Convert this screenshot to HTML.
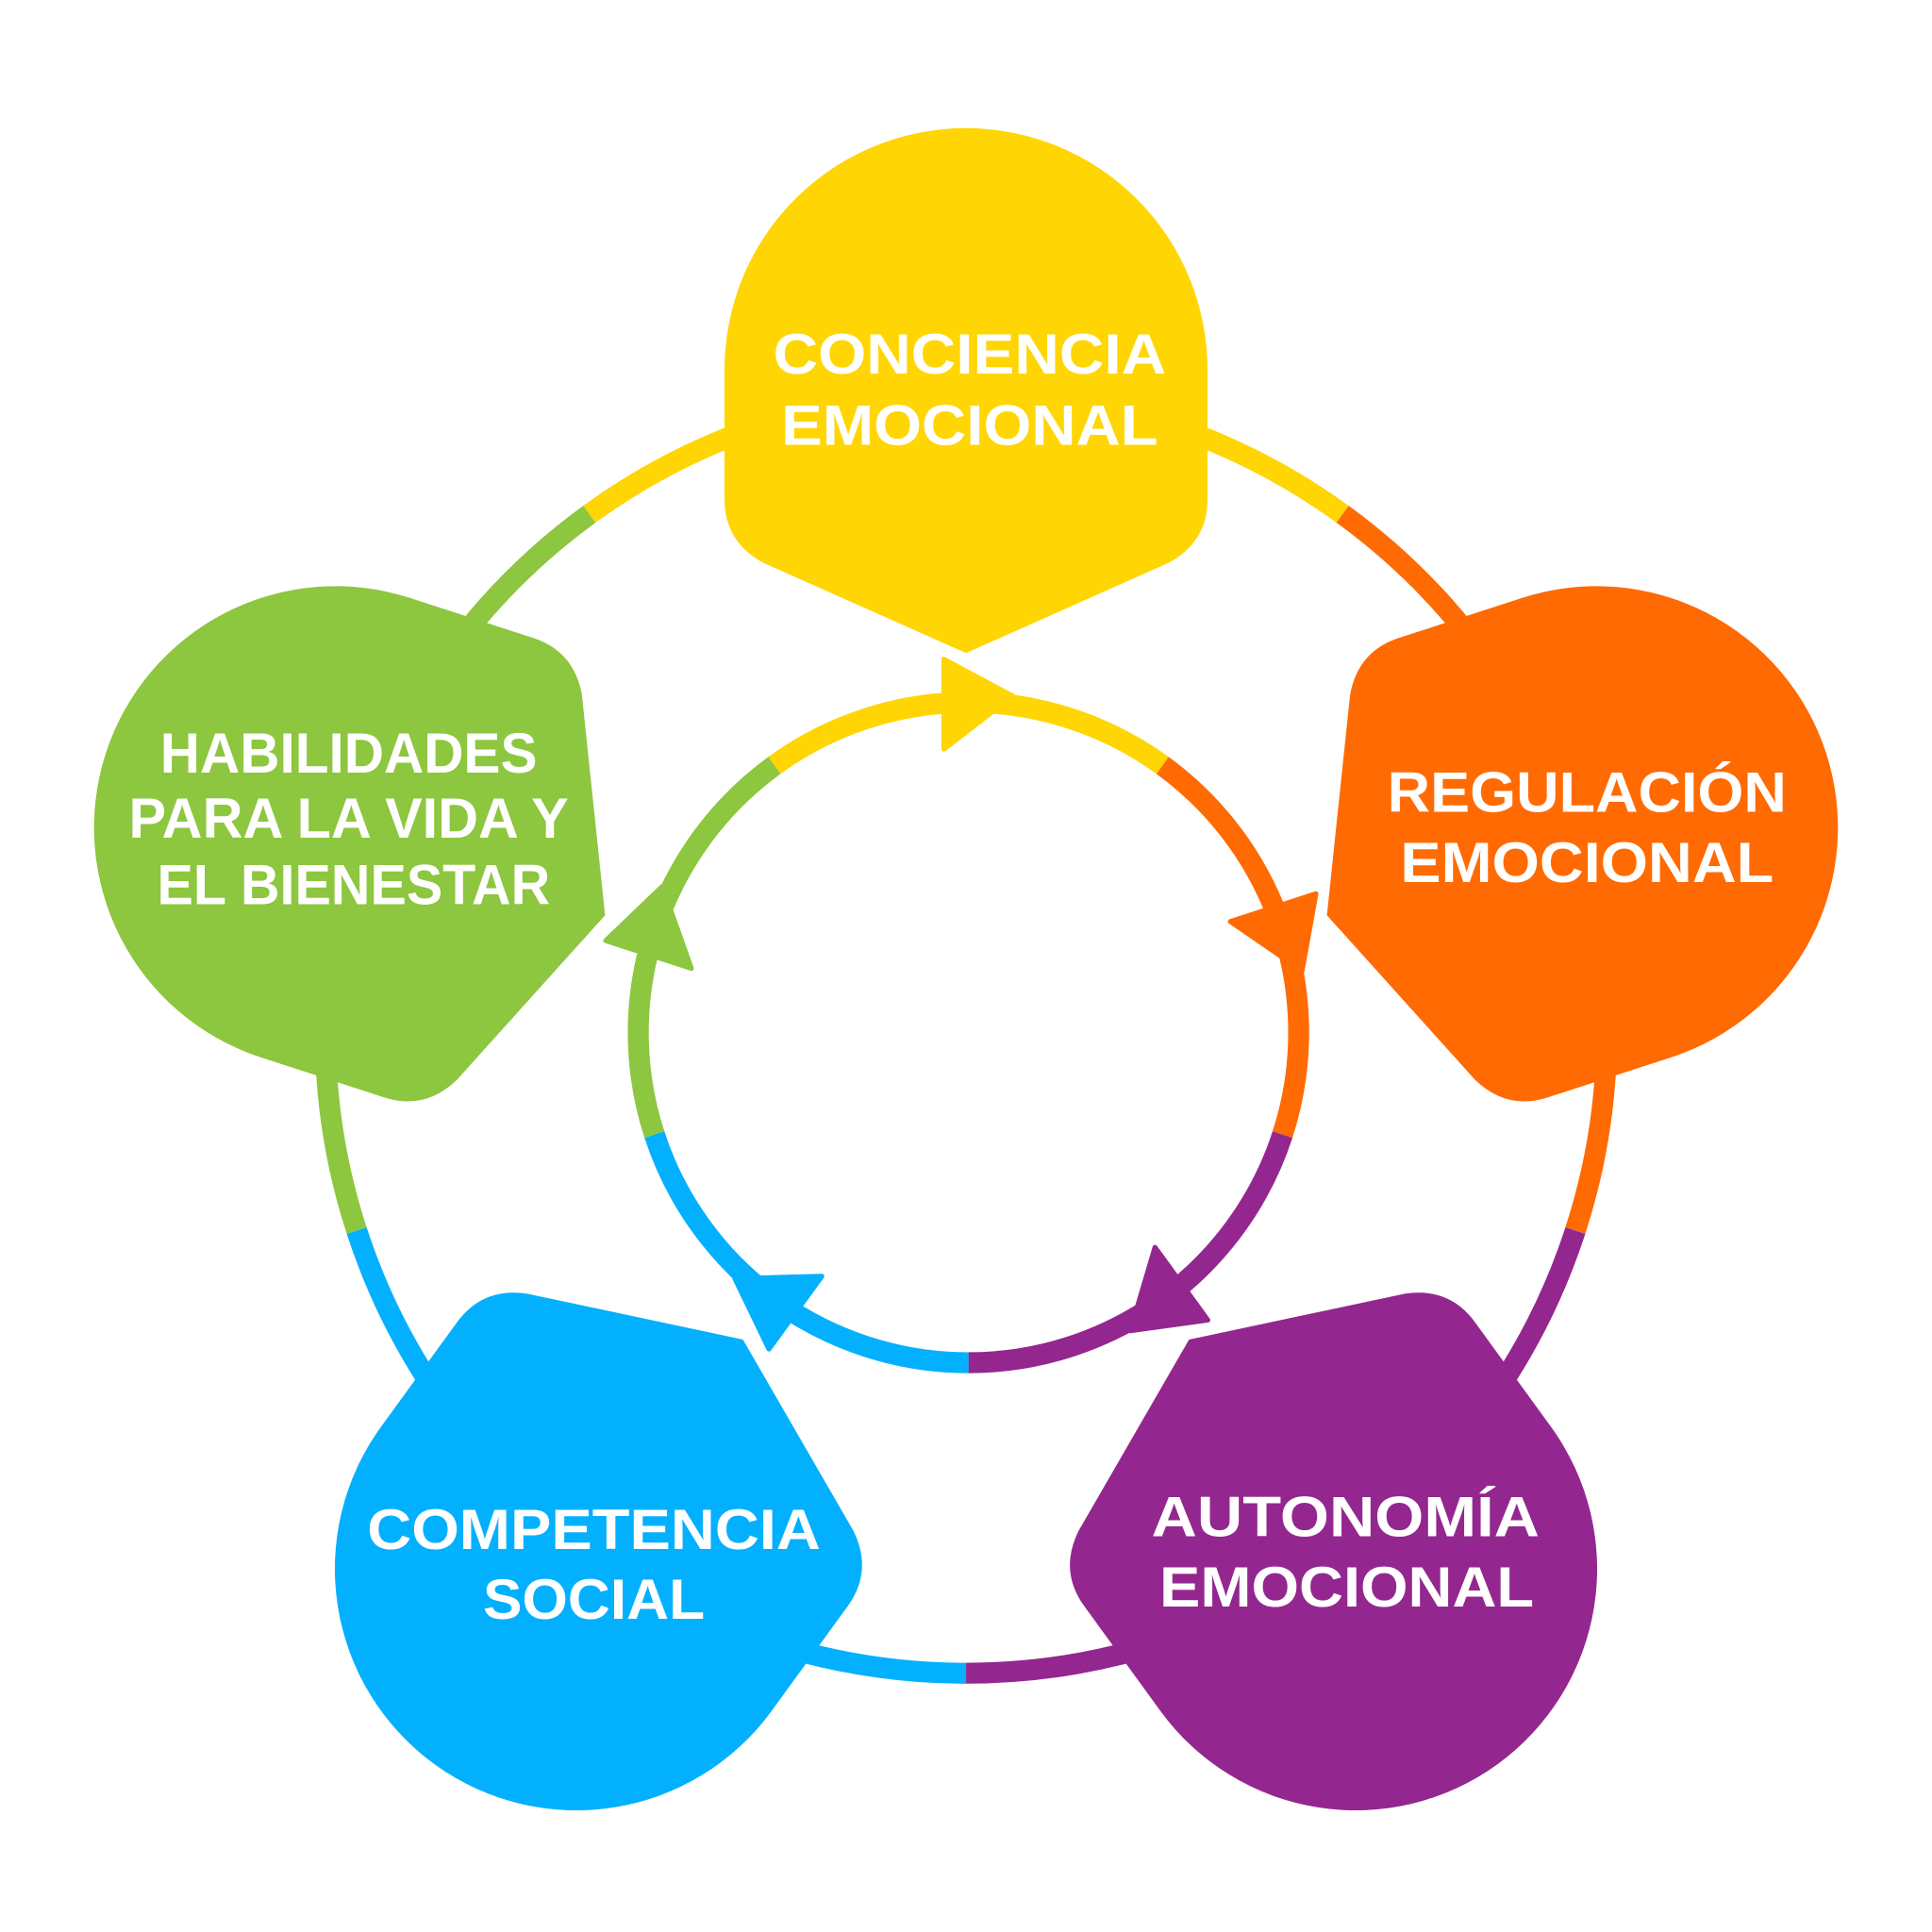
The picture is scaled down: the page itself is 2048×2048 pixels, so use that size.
<!DOCTYPE html>
<html><head><meta charset="utf-8"><style>
html,body{margin:0;padding:0;background:#fff}
svg{display:block}
text{font-family:"Liberation Sans",sans-serif;font-weight:bold;fill:#fff;font-size:46px;text-anchor:middle}
</style></head><body>
<svg width="2048" height="2048" viewBox="0 0 1568 1568" xmlns="http://www.w3.org/2000/svg">
<defs>
<path id="node" d="M588,405 L588,300 A196,196 0 0 1 980,300 L980,405 Q980,440 948,457 L784,530 L620,457 Q588,440 588,405 Z"/>
<path id="arc" d="M784,318 A520,520 0 0 1 1089.6,417.3" fill="none" stroke-width="17"/>
<path id="arcIn" d="M786,570 A268,268 0 0 1 943.5,621.2" fill="none" stroke-width="17"/>
<path id="tri" d="M766,535 L822,565 L766,608 Z"/>
</defs>
<!-- outer ring segments: each spans -36..36 rotated -->
<g transform="translate(0,0)">
<g transform="rotate(0 784 838)"><use href="#arc" stroke="#FFD503" transform="rotate(0 784 838)"/><use href="#arc" stroke="#FFD503" transform="rotate(-36 784 838)"/></g>
<g transform="rotate(72 784 838)"><use href="#arc" stroke="#FF6A03"/><use href="#arc" stroke="#FF6A03" transform="rotate(-36 784 838)"/></g>
<g transform="rotate(144 784 838)"><use href="#arc" stroke="#93278F"/><use href="#arc" stroke="#93278F" transform="rotate(-36 784 838)"/></g>
<g transform="rotate(216 784 838)"><use href="#arc" stroke="#03B0FE"/><use href="#arc" stroke="#03B0FE" transform="rotate(-36 784 838)"/></g>
<g transform="rotate(288 784 838)"><use href="#arc" stroke="#8DC63F"/><use href="#arc" stroke="#8DC63F" transform="rotate(-36 784 838)"/></g>
</g>
<!-- nodes -->
<use href="#node" fill="#FFD503"/>
<use href="#node" fill="#FF6A03" transform="rotate(72 784 838)"/>
<use href="#node" fill="#93278F" transform="rotate(144 784 838)"/>
<use href="#node" fill="#03B0FE" transform="rotate(216 784 838)"/>
<use href="#node" fill="#8DC63F" transform="rotate(288 784 838)"/>
<!-- inner ring -->
<g transform="rotate(0 786 838)"><use href="#arcIn" stroke="#FFD503"/><use href="#arcIn" stroke="#FFD503" transform="rotate(-36 786 838)"/><use href="#tri" fill="#FFD503" stroke="#FFD503" stroke-width="4" stroke-linejoin="round"/></g>
<g transform="rotate(72 786 838)"><use href="#arcIn" stroke="#FF6A03"/><use href="#arcIn" stroke="#FF6A03" transform="rotate(-36 786 838)"/><use href="#tri" fill="#FF6A03" stroke="#FF6A03" stroke-width="4" stroke-linejoin="round"/></g>
<g transform="rotate(144 786 838)"><use href="#arcIn" stroke="#93278F"/><use href="#arcIn" stroke="#93278F" transform="rotate(-36 786 838)"/><use href="#tri" fill="#93278F" stroke="#93278F" stroke-width="4" stroke-linejoin="round"/></g>
<g transform="rotate(216 786 838)"><use href="#arcIn" stroke="#03B0FE"/><use href="#arcIn" stroke="#03B0FE" transform="rotate(-36 786 838)"/><use href="#tri" fill="#03B0FE" stroke="#03B0FE" stroke-width="4" stroke-linejoin="round"/></g>
<g transform="rotate(288 786 838)"><use href="#arcIn" stroke="#8DC63F"/><use href="#arcIn" stroke="#8DC63F" transform="rotate(-36 786 838)"/><use href="#tri" fill="#8DC63F" stroke="#8DC63F" stroke-width="4" stroke-linejoin="round"/></g>
<!-- labels -->
<text x="787" y="303" textLength="319" lengthAdjust="spacingAndGlyphs">CONCIENCIA</text>
<text x="787" y="361" textLength="306" lengthAdjust="spacingAndGlyphs">EMOCIONAL</text>
<text x="1288" y="659" textLength="324" lengthAdjust="spacingAndGlyphs">REGULACIÓN</text>
<text x="1288" y="716" textLength="303" lengthAdjust="spacingAndGlyphs">EMOCIONAL</text>
<text x="1092" y="1247" textLength="315" lengthAdjust="spacingAndGlyphs">AUTONOMÍA</text>
<text x="1093" y="1304" textLength="304" lengthAdjust="spacingAndGlyphs">EMOCIONAL</text>
<text x="482" y="1257" textLength="368" lengthAdjust="spacingAndGlyphs">COMPETENCIA</text>
<text x="482" y="1314" textLength="180" lengthAdjust="spacingAndGlyphs">SOCIAL</text>
<text x="283" y="627" textLength="306" lengthAdjust="spacingAndGlyphs">HABILIDADES</text>
<text x="283" y="680" textLength="357" lengthAdjust="spacingAndGlyphs">PARA LA VIDA Y</text>
<text x="287" y="734" textLength="319" lengthAdjust="spacingAndGlyphs">EL BIENESTAR</text>
</svg>
</body></html>
